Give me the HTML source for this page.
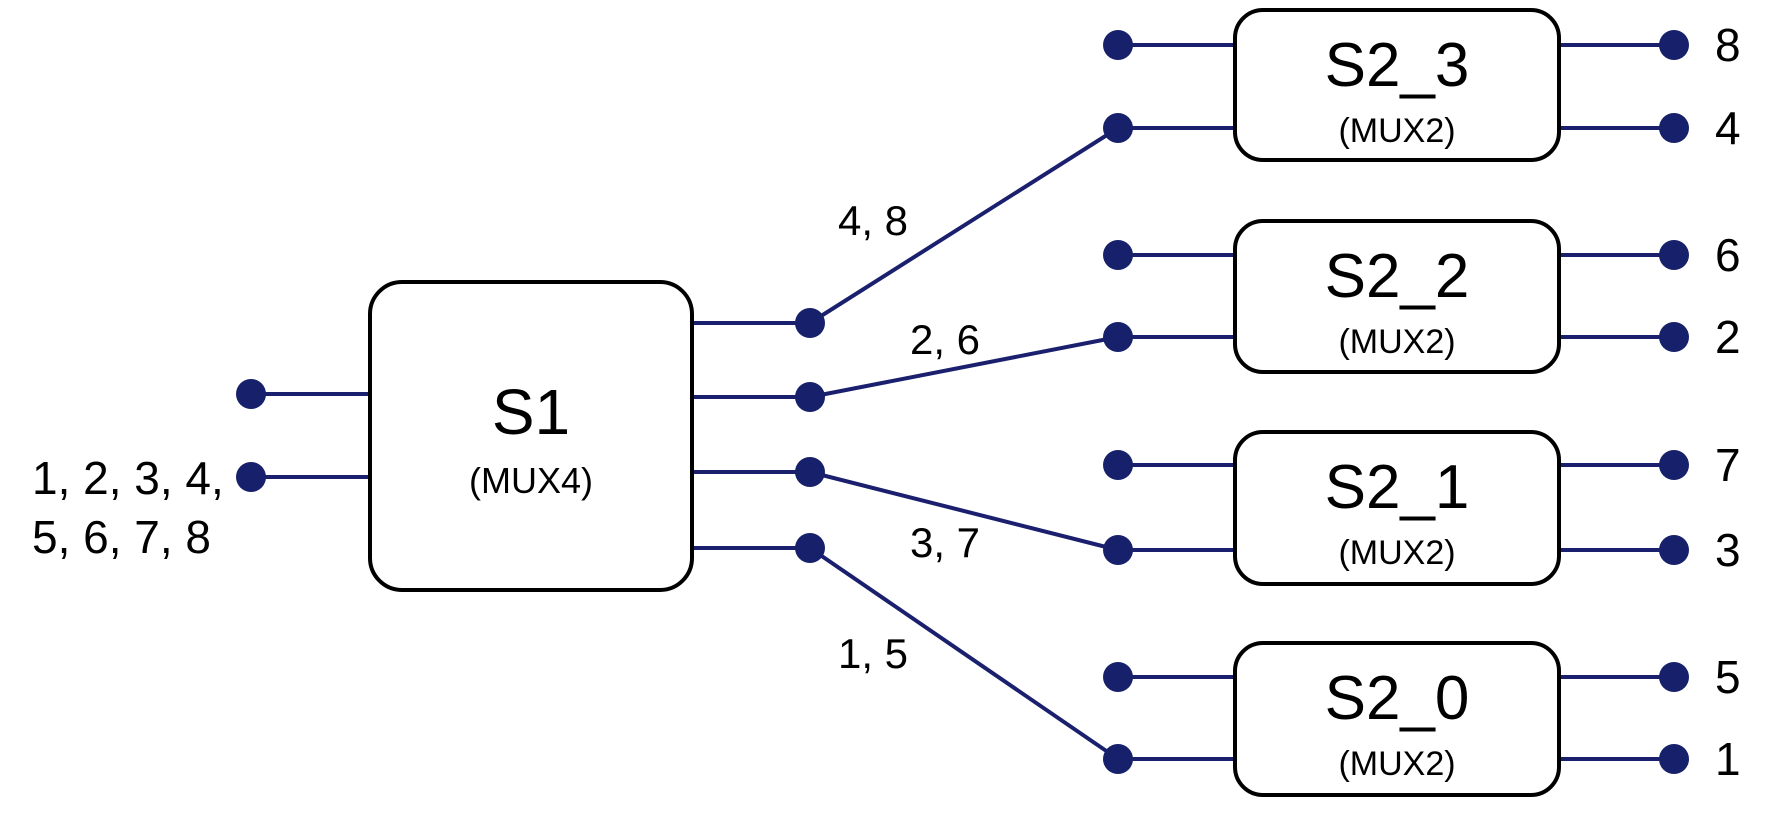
<!DOCTYPE html>
<html><head><style>
html,body{margin:0;padding:0;background:#fff;}
svg{display:block;}
text{font-family:"Liberation Sans",sans-serif;fill:#000;}
</style></head><body>
<svg width="1774" height="820" viewBox="0 0 1774 820" xmlns="http://www.w3.org/2000/svg">
<g stroke="#1a1f6e" stroke-width="4" fill="none">
<line x1="251" y1="394" x2="370" y2="394"/>
<line x1="251" y1="477" x2="370" y2="477"/>
<line x1="692" y1="323" x2="810" y2="323"/>
<line x1="692" y1="397" x2="810" y2="397"/>
<line x1="692" y1="472" x2="810" y2="472"/>
<line x1="692" y1="548" x2="810" y2="548"/>
<line x1="810" y1="323" x2="1118" y2="128"/>
<line x1="810" y1="397" x2="1118" y2="337"/>
<line x1="810" y1="472" x2="1118" y2="550"/>
<line x1="810" y1="548" x2="1118" y2="759"/>
<line x1="1118" y1="45" x2="1235" y2="45"/><line x1="1118" y1="128" x2="1235" y2="128"/>
<line x1="1118" y1="255" x2="1235" y2="255"/><line x1="1118" y1="337" x2="1235" y2="337"/>
<line x1="1118" y1="465" x2="1235" y2="465"/><line x1="1118" y1="550" x2="1235" y2="550"/>
<line x1="1118" y1="677" x2="1235" y2="677"/><line x1="1118" y1="759" x2="1235" y2="759"/>
<line x1="1559" y1="45" x2="1674" y2="45"/><line x1="1559" y1="128" x2="1674" y2="128"/>
<line x1="1559" y1="255" x2="1674" y2="255"/><line x1="1559" y1="337" x2="1674" y2="337"/>
<line x1="1559" y1="465" x2="1674" y2="465"/><line x1="1559" y1="550" x2="1674" y2="550"/>
<line x1="1559" y1="677" x2="1674" y2="677"/><line x1="1559" y1="759" x2="1674" y2="759"/>
</g>
<g fill="#17206b">
<circle cx="251" cy="394" r="15"/><circle cx="251" cy="477" r="15"/>
<circle cx="810" cy="323" r="15"/><circle cx="810" cy="397" r="15"/><circle cx="810" cy="472" r="15"/><circle cx="810" cy="548" r="15"/>
<circle cx="1118" cy="45" r="15"/><circle cx="1118" cy="128" r="15"/><circle cx="1118" cy="255" r="15"/><circle cx="1118" cy="337" r="15"/>
<circle cx="1118" cy="465" r="15"/><circle cx="1118" cy="550" r="15"/><circle cx="1118" cy="677" r="15"/><circle cx="1118" cy="759" r="15"/>
<circle cx="1674" cy="45" r="15"/><circle cx="1674" cy="128" r="15"/><circle cx="1674" cy="255" r="15"/><circle cx="1674" cy="337" r="15"/>
<circle cx="1674" cy="465" r="15"/><circle cx="1674" cy="550" r="15"/><circle cx="1674" cy="677" r="15"/><circle cx="1674" cy="759" r="15"/>
</g>
<g fill="#fff" stroke="#000" stroke-width="4">
<rect x="370" y="282" width="322" height="308" rx="32"/>
<rect x="1235" y="10" width="324" height="150" rx="28"/>
<rect x="1235" y="221" width="324" height="151" rx="28"/>
<rect x="1235" y="432" width="324" height="152" rx="28"/>
<rect x="1235" y="643" width="324" height="152" rx="28"/>
</g>
<g text-anchor="middle">
<text x="531" y="434" font-size="64">S1</text>
<text x="531" y="493" font-size="36">(MUX4)</text>
<text x="1397" y="86" font-size="62">S2_3</text>
<text x="1397" y="142" font-size="34">(MUX2)</text>
<text x="1397" y="297" font-size="62">S2_2</text>
<text x="1397" y="353" font-size="34">(MUX2)</text>
<text x="1397" y="508" font-size="62">S2_1</text>
<text x="1397" y="564" font-size="34">(MUX2)</text>
<text x="1397" y="719" font-size="62">S2_0</text>
<text x="1397" y="775" font-size="34">(MUX2)</text>
<text x="873" y="235" font-size="42">4, 8</text>
<text x="945" y="354" font-size="42">2, 6</text>
<text x="945" y="557" font-size="42">3, 7</text>
<text x="873" y="668" font-size="42">1, 5</text>
</g>
<g font-size="46">
<text x="32" y="494">1, 2, 3, 4,</text>
<text x="32" y="553">5, 6, 7, 8</text>
<text x="1715" y="61">8</text><text x="1715" y="144">4</text>
<text x="1715" y="271">6</text><text x="1715" y="353">2</text>
<text x="1715" y="481">7</text><text x="1715" y="566">3</text>
<text x="1715" y="693">5</text><text x="1715" y="775">1</text>
</g>
</svg>
</body></html>
